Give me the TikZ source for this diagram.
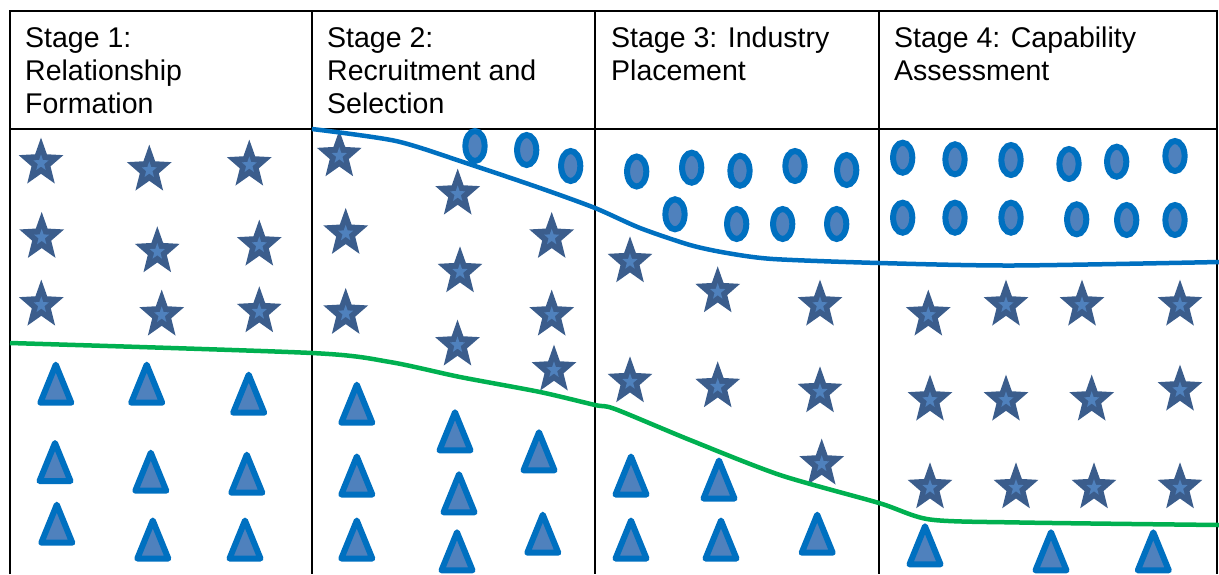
\documentclass[tikz,border=0pt]{standalone}
\usepackage{fontspec}
\setmainfont{Liberation Sans}
\definecolor{stardark}{RGB}{59,93,140}
\definecolor{starlight}{RGB}{79,129,189}
\definecolor{shapefill}{RGB}{79,129,189}
\definecolor{shapeedge}{RGB}{0,112,192}
\definecolor{lineblue}{RGB}{0,112,192}
\definecolor{linegreen}{RGB}{0,176,80}
\tikzset{
  gridline/.style={line width=2pt, black},
  headtext/.style={anchor=base west, inner sep=0pt, font=\fontsize{28.5}{33}\selectfont},
  boundary/.style={line width=4.5pt, line join=round},
  starpic/.pic={
    \begin{scope}[yscale=1.08]
    \fill[stardark] (90:23.5pt) -- (126:10pt) -- (162:23.5pt) -- (198:10pt) -- (234:23.5pt)
      -- (270:10pt) -- (306:23.5pt) -- (342:10pt) -- (18:23.5pt) -- (54:10pt) -- cycle;
    \fill[starlight] (90:8pt) -- (126:3.3pt) -- (162:8pt) -- (198:3.3pt) -- (234:8pt)
      -- (270:3.3pt) -- (306:8pt) -- (342:3.3pt) -- (18:8pt) -- (54:3.3pt) -- cycle;
    \end{scope}
  },
  ovalpic/.pic={
    \draw[shapeedge, fill=shapefill, line width=6pt] (0,0) ellipse [x radius=9.6pt, y radius=15pt];
  },
  tripic/.pic={
    \draw[shapeedge, fill=shapefill, line width=6pt, line join=round]
      (0,-19) -- (15.5,19) -- (-15.5,19) -- cycle;
  }
}
\begin{document}
\begin{tikzpicture}[x=1pt,y=-1pt]
\useasboundingbox (0,0) rectangle (1219,574);

% table frame
\draw[gridline] (10,574) -- (10,11) -- (1217,11) -- (1217,574);
\draw[gridline] (10,129) -- (1217,129);
\foreach \cx in {312,595,879} \draw[gridline] (\cx,11) -- (\cx,574);

% column headings
\node[headtext] (h1a) at (25,47) {Stage 1:};
\node[headtext] (h1b) at (25,80) {Relationship};
\node[headtext] (h1c) at (25,113) {Formation};
\node[headtext] (h2a) at (327,47) {Stage 2:};
\node[headtext] (h2b) at (327,80) {Recruitment and};
\node[headtext] (h2c) at (327,113) {Selection};
\node[headtext] (h3a) at (611,47) {Stage 3: Industry};
\node[headtext] (h3b) at (611,80) {Placement};
\node[headtext] (h4a) at (894,47) {Stage 4: Capability};
\node[headtext] (h4b) at (894,80) {Assessment};

% stars
\foreach \px/\py [count=\i] in {
  41/163, 149.3/170, 249.3/165, 41.7/237.3, 157.3/251.7, 259.3/245,
  41.3/305, 161.7/315, 259.3/311.7,
  339.3/155.7, 457.7/194, 345.7/233.3, 551.7/237.3, 460/271.7,
  345.7/313.3, 551.7/315, 457.5/345, 554/370,
  630/261.7, 717.7/291.7, 820/305, 630/381.7, 717.7/386.7, 820/391.7, 821.7/464,
  928.3/315, 1006/305, 1082/305, 1180/305,
  930/400, 1006/400, 1091.7/400, 1180/390,
  930/487.7, 1016/487.7, 1094/487.7, 1180/487.7}
  \pic (star\i) at (\px,\py) {starpic};

% ovals
\foreach \px/\py [count=\i] in {
  475/146, 526.7/150, 570.7/166,
  636.7/171.5, 691.7/167.7, 740/170.7, 795/166, 846.7/170,
  675/214.3, 736.7/224, 782.7/224, 836.7/224,
  902.7/157.7, 955/159.3, 1011/160, 1069/164, 1116.7/161.7, 1175/156,
  902.7/217.7, 955/217.7, 1011/217.7, 1076.7/219.3, 1126.7/220, 1175/220}
  \pic (oval\i) at (\px,\py) {ovalpic};

% triangles
\foreach \px/\py [count=\i] in {
  55.8/383.7, 146.7/383.7, 248.7/393.7, 55/462, 150.8/471.7, 246.8/473.7,
  56.8/523.7, 152.8/539.5, 245/539.5,
  356.8/403.7, 455/431.3, 539/451.3, 356.8/475.5, 459/493.3, 542.8/533.7,
  356.8/539.5, 457/551.3,
  631/475.5, 719/479.5, 817.2/533.7, 631/539.5, 721/539.5,
  925/545.3, 1051/551.3, 1153.3/551.3}
  \pic (tri\i) at (\px,\py) {tripic};

% boundary curves
\draw[boundary, lineblue] plot[smooth, tension=0.45] coordinates {
  (312,129) (396,141) (466,163) (540,188) (595,208) (640,228) (690,245)
  (727,253) (773,259) (879,263) (1013,265.5) (1219,262)};
\draw[boundary, linegreen] plot[smooth, tension=0.45] coordinates {
  (10,343) (312,353) (390,362) (460,377) (540,392) (595,405) (615,409)
  (690,440) (780,475) (879,503) (930,519.5) (1020,522.5) (1219,525)};
\end{tikzpicture}
\end{document}
